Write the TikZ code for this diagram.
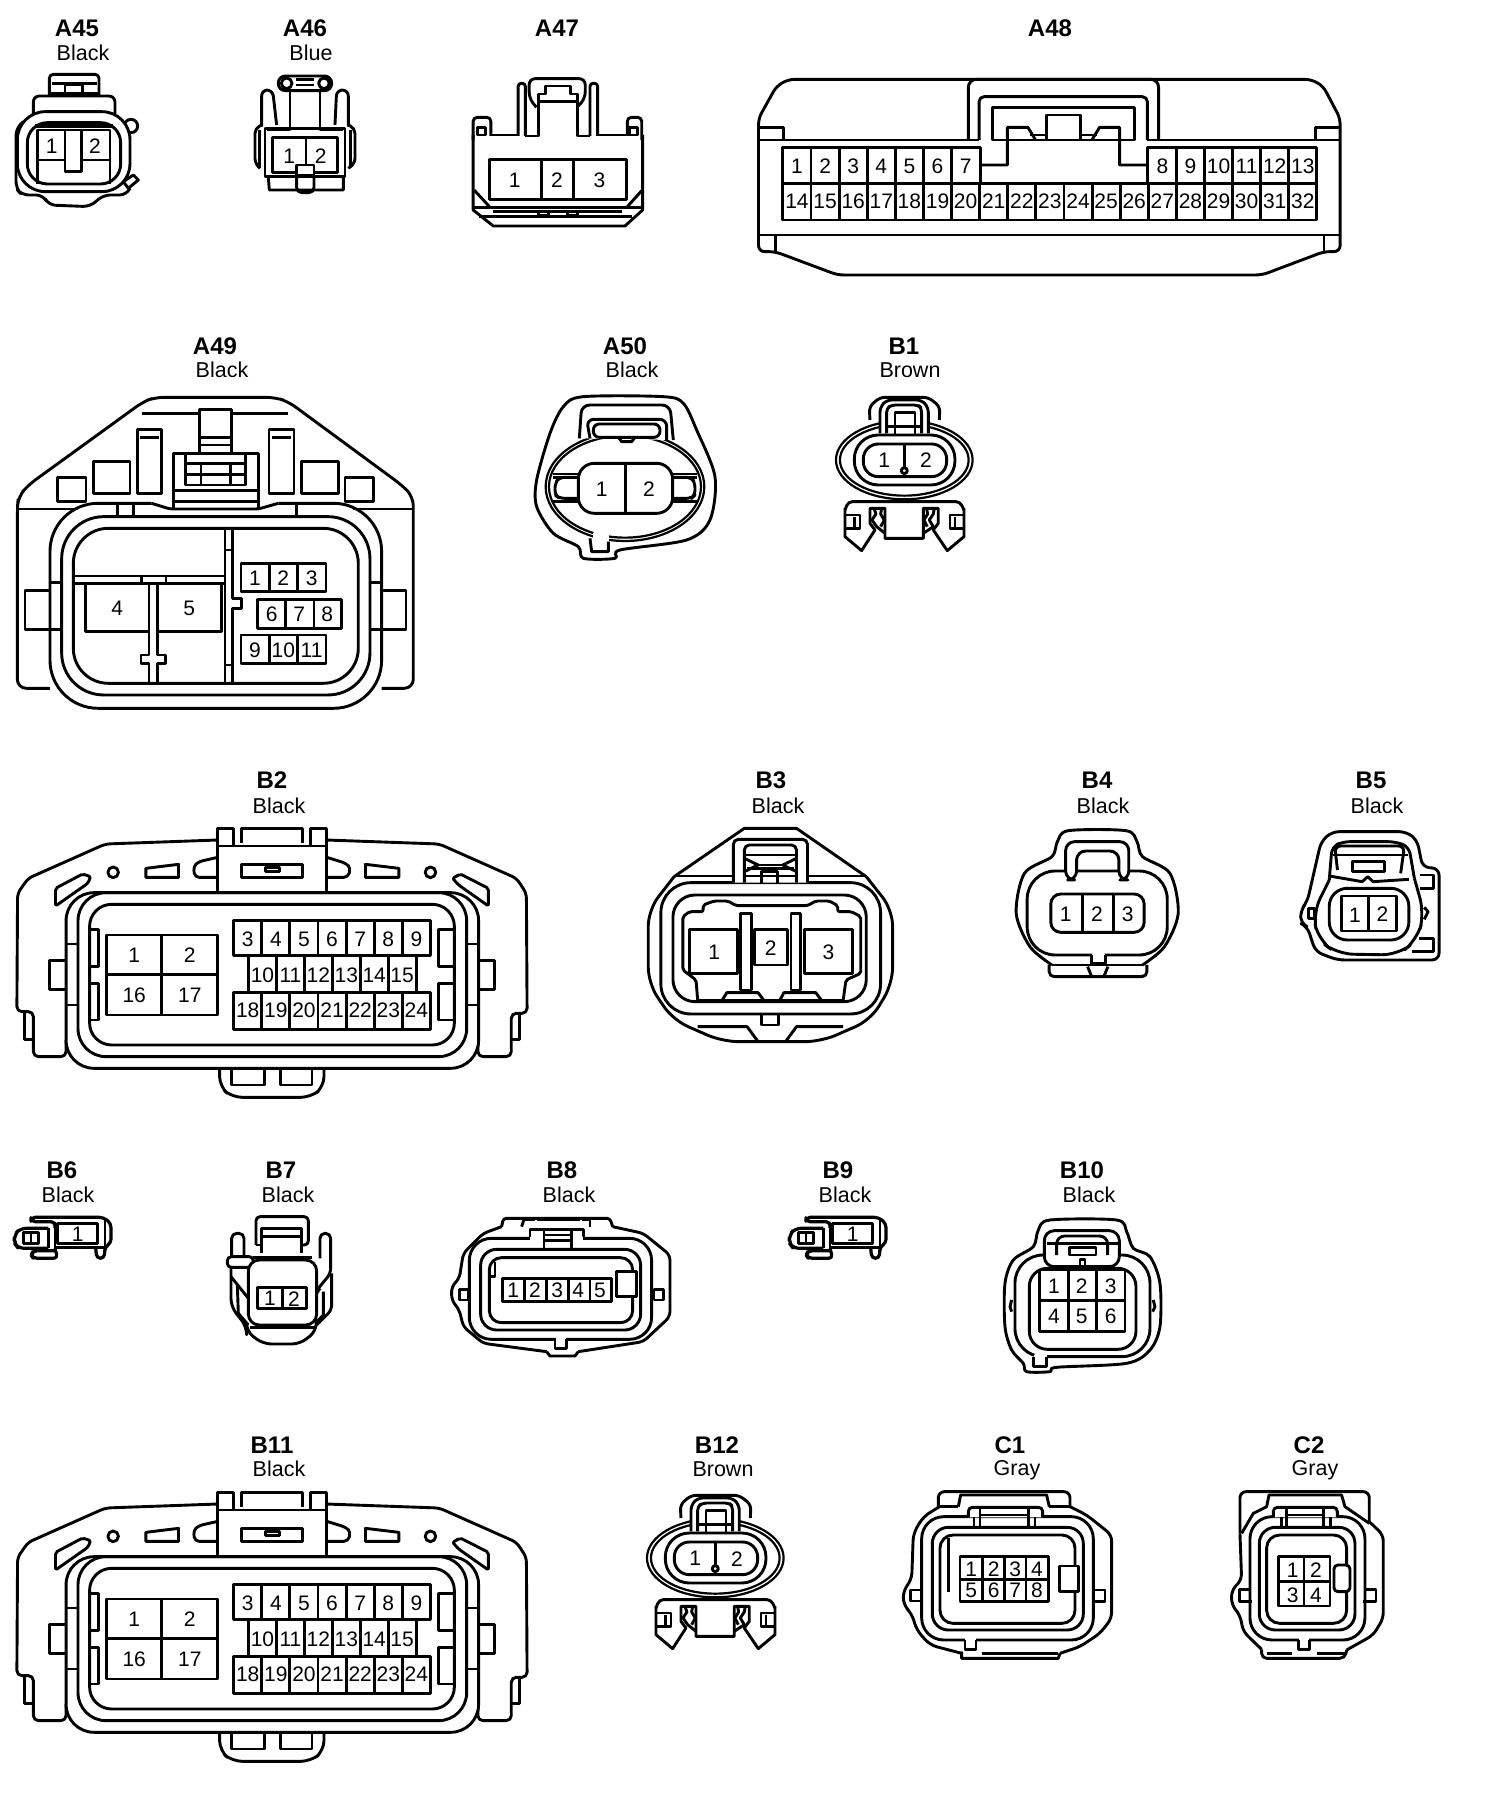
\documentclass[tikz,border=0pt]{standalone}
\usepackage{fontspec}
\setmainfont{Liberation Sans}
\tikzset{
  conntitle/.style={font=\bfseries\fontsize{24}{24}\selectfont,anchor=base,inner sep=0pt},
  conncolor/.style={font=\fontsize{21.5}{22}\selectfont,anchor=base,inner sep=0pt},
  pinnum/.style={font=\fontsize{21}{21}\selectfont,inner sep=0pt},
  wide/.style={shift={(#1)},xscale=0.4789,yscale=0.3333},
  third/.style={shift={(#1)},scale=0.3333}
}
% big connector, used for B2 and B11
\newcommand{\connBtwo}[1]{
  \draw (620,365) -- (620,175) -- (665,175) -- (665,228);
  \draw (688,220) -- (688,175) -- (860,175) -- (860,220);
  \draw (883,228) -- (883,175) -- (928,175) -- (928,365);
  \draw (620,228) -- (928,228);
  \draw (688,283) rectangle (862,322);
  \draw (755,292) rectangle (795,305);
  \draw[rounded corners=5pt] (620,210) -- (300,222) -- (80,325) -- (50,370) -- (48,725) -- (95,725) -- (95,860) -- (188,860) -- (188,810);
  \draw (70,728) -- (70,808) -- (95,808);
  \draw[rounded corners=5pt] (928,210) -- (1250,222) -- (1470,325) -- (1498,370) -- (1500,730) -- (1455,730) -- (1455,860) -- (1360,860) -- (1360,810);
  \draw (1478,732) -- (1478,808) -- (1455,808);
  \draw (322,307) ellipse (15 and 16);
  \draw (1225,307) ellipse (15 and 16);
  \draw (415,295) -- (508,283) -- (508,322) -- (415,322) -- cycle;
  \draw (1040,283) -- (1135,295) -- (1135,322) -- (1040,322) -- cycle;
  \draw[rounded corners=4pt] (620,262) -- (565,275) -- (550,290) -- (555,322) -- (620,322);
  \draw[rounded corners=4pt] (930,262) -- (985,280) -- (998,295) -- (990,322) -- (930,322);
  \draw[rounded corners=2pt] (158,355) -- (235,312) -- (258,320) -- (250,340) -- (158,408) -- cycle;
  \draw[rounded corners=2pt] (1390,355) -- (1310,312) -- (1288,325) -- (1305,345) -- (1390,408) -- cycle;
  \draw[rounded corners=28pt,fill=white] (188,368) rectangle (1362,895);
  \draw[rounded corners=28pt] (222,368) rectangle (1328,860);
  \draw[rounded corners=22pt] (255,403) rectangle (1293,825);
  \draw (188,572) -- (140,572) -- (140,658) -- (188,658);
  \draw (1362,572) -- (1408,572) -- (1408,658) -- (1362,658);
  \foreach \ty in {522,705} {
    \draw (188,\ty) -- (222,\ty);
    \draw (1328,\ty) -- (1362,\ty);
  }
  \draw (258,478) -- (280,478) -- (280,590) -- (258,590);
  \draw (258,640) -- (280,640) -- (280,750) -- (258,750);
  \draw (1293,478) -- (1247,478) -- (1247,590) -- (1293,590);
  \draw (1293,640) -- (1247,640) -- (1247,750) -- (1293,750);
  \draw[rounded corners=10pt] (625,897) -- (625,950) -- (660,982) -- (885,982) -- (922,950) -- (922,897);
  \draw (660,897) -- (660,945) -- (752,945) -- (752,897);
  \draw (797,897) -- (797,945) -- (888,945) -- (888,897);
  % pins
  \draw (302,495) rectangle (620,735);
  \draw (460,495) -- (460,735);
  \draw (302,613) -- (620,613);
  \draw (665,452) rectangle (1225,557);
  \draw (665,668) rectangle (1225,778);
  \foreach \k in {1,...,6} {
    \draw ({665+80*\k},452) -- ({665+80*\k},557);
    \draw ({665+80*\k},668) -- ({665+80*\k},778);
  }
  \foreach \k in {0,...,6}
    \draw ({708+79.5*\k},557) -- ({708+79.5*\k},668);
  \foreach \n/\px/\py in {1/382/557,2/540/557,16/382/677,17/540/677}
    \node[pinnum] (#1p\n) at (\px,\py) {\n};
  \foreach \n [evaluate=\n as \cx using {705+80*(\n-3)}] in {3,...,9}
    \node[pinnum] (#1p\n) at (\cx,508) {\n};
  \foreach \n [evaluate=\n as \cx using {747+79.5*(\n-10)}] in {10,...,15}
    \node[pinnum] (#1p\n) at (\cx,615) {\n};
  \foreach \n [evaluate=\n as \cx using {705+80*(\n-18)}] in {18,...,24}
    \node[pinnum] (#1p\n) at (\cx,722) {\n};
}
% oval connector with clip, used for B1 and B12
\newcommand{\connBone}[1]{
  \draw[rounded corners=5pt] (1050,300) -- (1048,260) -- (1080,232) -- (1225,232) -- (1260,260) -- (1258,300);
  \draw[line width=2.2pt] (1153,420) ellipse (205 and 118);
  \draw[line width=2.2pt] (1153,420) ellipse (193 and 107);
  \draw[rounded corners=5pt,fill=white] (1080,340) -- (1080,262) -- (1100,240) -- (1205,240) -- (1225,262) -- (1225,340);
  \draw[rounded corners=4pt] (1100,340) -- (1100,265) -- (1115,255) -- (1195,255) -- (1205,265) -- (1205,340);
  \draw (1125,342) -- (1125,278) -- (1185,278) -- (1185,342);
  \draw (1100,320) -- (1205,320);
  \draw[rounded corners=24pt,fill=white] (1003,345) rectangle (1305,495);
  \draw[rounded corners=15pt] (1030,372) rectangle (1280,470);
  \draw (1153,372) -- (1153,445);
  \draw[fill=white] (1153,452) circle (9);
  \node[pinnum] (#1p1) at (1093,422) {1};
  \node[pinnum] (#1p2) at (1218,422) {2};
  \draw[rounded corners=4pt] (975,570) -- (985,545) -- (1320,545) -- (1332,570);
  \draw (975,565) -- (975,650) -- (1025,692) -- (1065,630) -- (1050,610) -- (1050,565) -- (1095,565) -- (1095,655) -- (1210,655) -- (1210,565) -- (1255,565) -- (1255,610) -- (1240,630) -- (1282,692) -- (1332,650) -- (1332,565);
  \draw (975,585) -- (1020,585) -- (1020,625) -- (975,625);
  \draw (1332,585) -- (1290,585) -- (1290,625) -- (1332,625);
  \draw (1003,590) -- (1003,620);
  \draw (1305,590) -- (1305,620);
  % keyholes
  \draw (1062,565) -- (1068,582) -- (1056,600) -- (1070,620) -- (1095,640);
  \draw (1085,565) -- (1082,582) -- (1093,600) -- (1082,620);
  \draw (1243,565) -- (1240,582) -- (1228,600) -- (1240,620) -- (1210,640);
  \draw (1220,565) -- (1223,582) -- (1212,600) -- (1222,620);
}
% small one pin connector, used for B6 and B9
\newcommand{\connBnine}[1]{
  \draw[rounded corners=6pt,line width=3.2pt] (130,205) -- (45,205) -- (28,225) -- (28,250) -- (40,265) -- (130,265);
  \draw[line width=3.2pt] (55,218) rectangle (100,250);
  \draw (78,218) -- (78,250);
  \draw (130,205) -- (130,265);
  \draw[rounded corners=4pt,line width=3.2pt] (150,205) -- (150,185) -- (78,185) -- (78,172) -- (295,172) -- (318,190) -- (318,250) -- (300,260) -- (298,295) -- (275,295) -- (272,262);
  \draw[rounded corners=4pt,line width=3.2pt] (150,265) -- (158,295) -- (85,295) -- (78,285) -- (85,272) -- (150,272);
  \draw (150,185) -- (150,275);
  \draw (300,178) -- (300,260);
  \draw[line width=3.2pt] (158,190) rectangle (278,250);
  \draw (150,262) -- (300,262);
  \node[pinnum] (#1p1) at (218,222) {1};
}

\begin{document}
\begin{tikzpicture}[x=1pt,y=-1pt,line width=2.9pt,line join=round]
  \useasboundingbox (0,0) rectangle (1504,1794);

  % Titles
  \foreach \nm/\tx/\ty in {A45/77/36,A46/305/36,A47/557/36,A48/1050/36,A49/215/354,A50/625/354,B1/904/354,B2/272/788,B3/771/788,B4/1097/788,B5/1371/788,B6/62/1178,B7/281/1178,B8/562/1178,B9/838/1178,B10/1082/1178,B11/272/1453,B12/717/1453,C1/1010/1453,C2/1309/1453}
    \node[conntitle] (t\nm) at (\tx,\ty) {\nm};
  \foreach \nm/\lb/\tx/\ty in {A45/Black/83/60,A46/Blue/311/60,A49/Black/222/377,A50/Black/632/377,B1/Brown/910/377,B2/Black/279/813,B3/Black/778/813,B4/Black/1103/813,B5/Black/1377/813,B6/Black/68/1202,B7/Black/288/1202,B8/Black/569/1202,B9/Black/845/1202,B10/Black/1089/1202,B11/Black/279/1476,B12/Brown/723/1476,C1/Gray/1017/1475,C2/Gray/1315/1475}
    \node[conncolor] (c\nm) at (\tx,\ty) {\lb};

  % A45
  \begin{scope}[third={0,60}]
    \draw[rounded corners=4pt] (148,108) -- (148,43) -- (297,43) -- (297,108);
    \draw (148,100) -- (297,100);
    \draw (155,70) -- (290,70);
    \draw (195,97) -- (195,75) -- (248,75) -- (248,97);
    \draw[rounded corners=6pt] (100,165) -- (100,108) -- (345,108) -- (345,165);
    \draw[rounded corners=7pt] (70,185) -- (48,205) -- (48,385) -- (65,405) -- (130,405) -- (145,435) -- (270,440) -- (310,405) -- (380,405) -- (390,385);
    \draw (393,198) circle (20);
    \draw[fill=white] (370,365) -- (400,345) -- (415,360) -- (385,385) -- cycle;
    \draw[rounded corners=28pt,fill=white] (52,155) rectangle (390,395);
    \draw[rounded corners=20pt] (82,188) rectangle (362,372);
    \draw[line width=4pt] (105,197) -- (340,197);
    \draw (113,372) -- (113,210) -- (330,210) -- (330,372);
    \draw (113,300) -- (195,300);
    \draw (245,300) -- (330,300);
    \draw (195,210) -- (195,335) -- (245,335) -- (245,210);
    \foreach \n/\px in {1/155,2/285}
      \node[pinnum] (a45p\n) at (\px,260) {\n};
  \end{scope}

  % A46
  \begin{scope}[third={0,60}]
    \draw[rounded corners=7pt] (835,48) rectangle (995,92);
    \draw (860,70) circle (16);
    \draw (972,70) circle (16);
    \draw (888,58) -- (942,58);
    \draw (888,75) -- (942,75);
    \draw (800,210) -- (870,210) -- (870,92);
    \draw (1030,210) -- (960,210) -- (960,92);
    \draw[rounded corners=6pt] (785,200) -- (785,90) -- (818,90) -- (830,195);
    \draw[rounded corners=6pt] (1005,195) -- (1010,90) -- (1045,90) -- (1045,200);
    \draw[rounded corners=5pt] (785,195) -- (765,205) -- (765,310) -- (780,325);
    \draw[rounded corners=5pt] (1045,195) -- (1065,205) -- (1065,310) -- (1045,325);
    \draw (778,210) -- (778,320);
    \draw (1052,210) -- (1052,320);
    \draw (795,205) rectangle (1035,350);
    \draw[line width=3.2pt] (818,232) rectangle (1012,337);
    \draw (918,232) -- (918,315);
    \draw[fill=white] (890,315) rectangle (942,345);
    \draw (805,350) -- (808,390) -- (1030,390) -- (1030,350);
    \draw[rounded corners=5pt] (890,350) -- (890,398) -- (942,398) -- (942,350);
    \node[pinnum] (a46p1) at (868,288) {1};
    \node[pinnum] (a46p2) at (962,288) {2};
  \end{scope}

  % A47
  \begin{scope}[wide={0,0}]
    \draw[rounded corners=6pt] (1120,322) -- (1105,295) -- (1105,236) -- (1222,236) -- (1222,295) -- (1205,322);
    \draw (1125,305) -- (1125,282) -- (1140,282) -- (1140,258) -- (1192,258) -- (1192,282) -- (1205,282) -- (1205,305) -- cycle;
    \draw (1125,305) -- (1125,408) -- (1097,408);
    \draw (1205,305) -- (1205,408) -- (1232,408);
    \draw[rounded corners=3pt] (1082,408) -- (1082,250) -- (1097,250) -- (1097,408);
    \draw[rounded corners=3pt] (1232,408) -- (1232,250) -- (1248,250) -- (1248,408);
    \draw (1082,405) -- (1025,405);
    \draw (1248,405) -- (1310,405);
    \draw[rounded corners=4pt] (1025,408) -- (1025,352) -- (988,352) -- (988,420);
    \draw[rounded corners=4pt] (1310,408) -- (1310,352) -- (1340,352) -- (1340,420);
    \draw (997,382) rectangle (1013,405);
    \draw (1315,382) rectangle (1332,405);
    \draw (988,405) -- (988,630) -- (1030,678) -- (1305,678) -- (1342,630) -- (1342,405);
    \draw (1022,478) rectangle (1308,598);
    \draw (1130,478) -- (1130,598);
    \draw (1198,478) -- (1198,598);
    \draw (990,570) -- (1022,620);
    \draw (1340,572) -- (1310,620);
    \draw[line width=3.2pt] (988,622) -- (1342,622);
    \draw (1030,634) -- (1298,634);
    \draw (1000,650) -- (1320,650);
    \draw (1125,634) rectangle (1145,645);
    \draw (1185,634) rectangle (1205,645);
    \foreach \n/\px in {1/1075,2/1163,3/1252}
      \node[pinnum] (a47p\n) at (\px,540) {\n};
  \end{scope}

  % A48
  \begin{scope}[shift={(740,0)},xscale=0.4879,yscale=0.3333]
    \draw[rounded corners=6pt] (38,420) -- (38,355) -- (75,258) -- (100,238) -- (1170,238) -- (1195,258) -- (1230,355) -- (1230,755) -- (1197,755) -- (1070,825) -- (200,825) -- (72,755) -- (38,755) -- cycle;
    \draw (38,382) -- (90,382) -- (90,420);
    \draw (1230,382) -- (1180,382) -- (1180,420);
    \draw (38,420) -- (490,420);
    \draw (835,420) -- (1230,420);
    \draw[rounded corners=8pt] (468,420) -- (468,238) -- (858,238) -- (858,420);
    \draw[rounded corners=5pt] (490,420) -- (490,290) -- (835,290) -- (835,420);
    \draw (518,322) rectangle (808,420);
    \draw (628,420) -- (628,345) -- (697,345) -- (697,420);
    \draw (495,495) -- (548,495) -- (548,382) -- (590,382) -- (605,418);
    \draw (595,405) -- (628,405);
    \draw (832,495) -- (778,495) -- (778,382) -- (737,382) -- (722,418);
    \draw (732,405) -- (697,405);
    \draw (88,443) rectangle (493,550);
    \draw (835,443) rectangle (1182,550);
    \draw (88,550) rectangle (1182,660);
    \foreach \k in {1,...,18}
      \draw ({88+57.6*\k},550) -- ({88+57.6*\k},660);
    \foreach \k in {1,...,6,14,15,...,18}
      \draw ({88+57.6*\k},443) -- ({88+57.6*\k},550);
    \draw (38,705) -- (1230,705);
    \draw (72,705) -- (72,755);
    \draw (1197,705) -- (1197,755);
    \foreach \n [evaluate=\n as \cx using {88+57.6*(\n-0.5)}] in {1,...,7}
      \node[pinnum] (a48p\n) at (\cx,500) {\n};
    \foreach \n [evaluate=\n as \cx using {88+57.6*(\n+5.5)}] in {8,...,13}
      \node[pinnum] (a48p\n) at (\cx,500) {\n};
    \foreach \n [evaluate=\n as \cx using {88+57.6*(\n-13.5)}] in {14,...,32}
      \node[pinnum] (a48p\n) at (\cx,605) {\n};
  \end{scope}

  % A49
  \begin{scope}[third={0,320}]
    \draw[rounded corners=9pt] (150,1105) -- (52,1105) -- (52,565) -- (55,530) -- (85,495) -- (430,245) -- (465,232) -- (825,232) -- (865,245) -- (1205,495) -- (1240,530) -- (1240,1105) -- (1145,1105);
    \draw (52,567) -- (235,567);
    \draw (1060,567) -- (1240,567);
    \draw[rounded corners=48pt] (455,550) -- (150,550) -- (150,1165) -- (1145,1165) -- (1145,550) -- (835,550);
    \draw[rounded corners=3pt] (455,550) -- (510,567) -- (775,567) -- (835,550);
    \draw[rounded corners=42pt] (185,590) rectangle (1110,1125);
    \draw[rounded corners=35pt] (220,625) rectangle (1075,1090);
    \draw (352,550) -- (352,590);
    \draw (400,550) -- (400,590);
    \draw (890,550) -- (890,590);
    \draw (150,788) -- (185,788);
    \draw (1110,788) -- (1145,788);
    \draw (150,928) -- (185,928);
    \draw (1110,928) -- (1145,928);
    \draw (150,812) -- (75,812) -- (75,928) -- (150,928);
    \draw (1145,812) -- (1218,812) -- (1218,928) -- (1145,928);
    \draw (172,472) rectangle (258,545);
    \draw (280,425) rectangle (390,520);
    \draw (412,328) rectangle (485,520);
    \draw (420,352) -- (478,352);
    \draw (807,328) rectangle (882,520);
    \draw (815,352) -- (873,352);
    \draw (905,425) rectangle (1015,520);
    \draw (1035,472) rectangle (1120,545);
    \draw (427,280) -- (598,280);
    \draw (697,280) -- (865,280);
    \draw (598,400) -- (598,268) -- (695,268) -- (695,400);
    \draw (598,352) -- (695,352);
    \draw (598,375) -- (695,375);
    \draw (520,567) -- (520,400) -- (775,400) -- (775,567);
    \draw (557,405) -- (557,495) -- (737,495) -- (737,405);
    \draw (557,430) -- (737,430);
    \draw (557,463) -- (737,463);
    \draw (603,430) -- (603,495);
    \draw (692,430) -- (692,495);
    \draw (520,512) -- (775,512);
    \draw (520,545) -- (775,545);
    % inside
    \draw (222,768) -- (672,768);
    \draw (222,790) -- (672,790);
    \draw (425,768) -- (425,790);
    \draw (498,768) -- (498,790);
    \draw (675,628) -- (675,1088);
    \draw (697,628) -- (697,835) -- (725,835) -- (725,865) -- (697,865) -- (697,1088);
    \draw (675,690) -- (697,690);
    \draw (675,1035) -- (697,1035);
    \draw (257,790) -- (257,935) -- (447,935);
    \draw (473,935) -- (665,935) -- (665,790);
    \draw (447,790) -- (447,1005) -- (423,1005) -- (423,1030) -- (447,1030) -- (447,1088);
    \draw (473,790) -- (473,1005) -- (497,1005) -- (497,1030) -- (473,1030) -- (473,1088);
    \foreach \cy in {730,945} {
      \draw (723,\cy) rectangle (978,\cy+85);
      \draw (808,\cy) -- (808,\cy+85);
      \draw (892,\cy) -- (892,\cy+85);
    }
    \draw (772,838) rectangle (1025,925);
    \draw (857,838) -- (857,925);
    \draw (942,838) -- (942,925);
    \foreach \n/\px/\py in {1/765/775,2/850/775,3/935/775,6/815/882,7/898/882,8/982/882,9/765/990,10/850/990,11/935/990,4/352/865,5/568/865}
      \node[pinnum] (a49p\n) at (\px,\py) {\n};
  \end{scope}

  % A50
  \begin{scope}[third={520,320}]
    \draw plot[smooth cycle] coordinates {(190,230) (430,230) (490,250) (530,330) (585,470) (570,600) (500,660) (300,690) (285,715) (190,715) (175,680) (100,640) (50,560) (50,480) (90,340) (130,260)};
    \draw[line width=2.2pt] (315,500) ellipse (238 and 163);
    \draw[line width=2.2pt] (315,500) ellipse (228 and 153);
    \draw[fill=white,draw=white] (222,640) rectangle (262,672);
    \draw (210,655) -- (215,695) -- (265,695) -- (265,665);
    \draw[rounded corners=8pt,fill=white] (178,355) -- (185,255) -- (450,255) -- (460,360);
    \draw[rounded corners=7pt] (210,355) -- (200,298) -- (440,298) -- (440,360);
    \draw[rounded corners=6pt,fill=white] (220,352) -- (220,312) -- (420,312) -- (420,352) -- cycle;
    \draw (295,352) -- (305,365) -- (335,365) -- (345,352);
    \draw (100,462) -- (175,462);
    \draw (100,472) -- (175,472);
    \draw (100,545) -- (175,545);
    \draw (458,462) -- (530,462);
    \draw (458,472) -- (530,472);
    \draw (458,545) -- (530,545);
    \draw[rounded corners=5pt] (175,472) -- (118,472) -- (105,490) -- (105,525) -- (118,535) -- (175,535);
    \draw[rounded corners=5pt] (458,472) -- (515,472) -- (525,490) -- (525,525) -- (515,535) -- (458,535);
    \draw[rounded corners=16pt,fill=white] (175,430) rectangle (458,580);
    \draw (317,430) -- (317,580);
    \node[pinnum] (a50p1) at (245,508) {1};
    \node[pinnum] (a50p2) at (387,508) {2};
  \end{scope}

  % B1
  \begin{scope}[third={520,320}]
    \connBone{bone}
  \end{scope}

  % B2
  \begin{scope}[shift={(0,770)},xscale=0.3514,yscale=0.3333]
    \connBtwo{btwo}
  \end{scope}

  % B3
  \begin{scope}[shift={(640,770)},xscale=0.5492,yscale=0.3333]
    \draw (62,320) -- (190,175) -- (285,175) -- (412,320);
    \draw (62,318) -- (170,318);
    \draw (305,318) -- (412,318);
    \draw[rounded corners=16pt] (62,320) -- (15,420) -- (15,640) -- (60,750) -- (150,815) -- (330,815) -- (420,750) -- (460,640) -- (460,420) -- (412,320);
    \draw[rounded corners=30pt] (38,338) rectangle (438,732);
    \draw[rounded corners=22pt] (60,375) rectangle (412,695);
    \draw[rounded corners=2pt] (105,690) -- (102,630) -- (78,600) -- (78,440) -- (90,425) -- (115,425) -- (115,405) -- (135,393) -- (160,393) -- (175,407) -- (305,407) -- (320,393) -- (345,393) -- (360,407) -- (360,425) -- (385,425) -- (402,440) -- (402,610) -- (375,630) -- (370,690);
    \draw (105,690) -- (370,690);
    \draw (90,478) rectangle (177,610);
    \draw (208,478) rectangle (268,585);
    \draw (300,478) rectangle (387,610);
    \draw (183,430) rectangle (203,660);
    \draw (275,430) rectangle (293,660);
    \draw (150,690) -- (158,668) -- (215,668) -- (225,690);
    \draw (255,690) -- (262,668) -- (320,668) -- (330,690);
    \draw[rounded corners=5pt,fill=white] (170,338) -- (170,208) -- (305,208) -- (305,338);
    \draw[rounded corners=5pt] (190,338) -- (190,225) -- (285,225) -- (285,338);
    \draw (190,255) -- (285,255);
    \draw (190,265) -- (215,285) -- (190,305);
    \draw (285,265) -- (260,285) -- (285,305);
    \draw (215,285) -- (260,285);
    \draw (195,295) -- (280,295);
    \draw (222,338) -- (222,305) -- (250,305) -- (250,338);
    \draw (190,318) -- (285,318);
    \draw (222,735) -- (222,765) -- (252,765) -- (252,735);
    \draw (105,770) -- (195,770) -- (215,815);
    \draw (370,770) -- (285,770) -- (265,815);
    \node[pinnum] (bthreep1) at (135,548) {1};
    \node[pinnum] (bthreep2) at (238,535) {2};
    \node[pinnum] (bthreep3) at (343,548) {3};
  \end{scope}

  % B4
  \begin{scope}[shift={(640,770)},xscale=0.5492,yscale=0.3333]
    \draw plot[smooth] coordinates {(750,585) (710,530) (685,430) (700,310) (750,260) (760,215) (780,182) (885,182) (905,215) (915,260) (965,310) (980,430) (955,530) (915,585)};
    \draw (750,585) -- (915,585);
    \draw[rounded corners=28pt] (705,303) rectangle (960,555);
    \draw[draw=white,fill=white] (826,552) rectangle (844,558);
    \draw (822,555) -- (822,580) -- (848,580) -- (848,555);
    \draw[rounded corners=5pt] (745,585) -- (745,620) -- (923,620) -- (923,585);
    \draw (815,590) -- (822,618);
    \draw (852,590) -- (845,618);
    \draw[rounded corners=9pt,fill=white] (775,330) -- (775,215) -- (890,215) -- (890,330) -- (872,330) -- (872,243) -- (795,243) -- (795,330) -- cycle;
    \draw[rounded corners=10pt] (748,372) rectangle (918,487);
    \draw (805,372) -- (805,487);
    \draw (862,372) -- (862,487);
    \foreach \n/\px in {1/775,2/832,3/888}
      \node[pinnum] (bfourp\n) at (\px,432) {\n};
  \end{scope}

  % B5
  \begin{scope}[shift={(640,770)},xscale=0.5492,yscale=0.3333]
    \draw[rounded corners=7pt] (1260,185) -- (1395,185) -- (1415,210) -- (1425,292) -- (1455,295) -- (1455,570) -- (1270,570) -- (1230,545) -- (1215,470) -- (1203,460) -- (1203,420) -- (1215,395) -- (1240,215) -- cycle;
    \draw (1420,315) -- (1445,315) -- (1445,355) -- (1420,355);
    \draw (1418,505) -- (1445,505) -- (1445,545) -- (1405,545);
    \draw (1218,415) rectangle (1228,445);
    \draw (1428,412) -- (1435,425) -- (1428,448);
    \draw[rounded corners=7pt] (1255,330) -- (1260,230) -- (1280,215) -- (1375,215) -- (1400,230) -- (1410,325);
    \draw[rounded corners=6pt] (1270,300) -- (1265,228) -- (1392,228) -- (1385,310);
    \draw (1262,255) -- (1398,255);
    \draw (1298,275) rectangle (1355,305);
    \draw (1255,318) -- (1315,335) -- (1325,320) -- (1335,335) -- (1400,328);
    \draw[rounded corners=16pt] (1255,330) -- (1225,430) -- (1235,510) -- (1270,552) -- (1380,555) -- (1415,510) -- (1428,430) -- (1410,325);
    \draw[rounded corners=18pt] (1255,355) rectangle (1400,510);
    \draw (1278,378) rectangle (1378,483);
    \draw (1327,378) -- (1327,483);
    \node[pinnum] (bfivep1) at (1302,435) {1};
    \node[pinnum] (bfivep2) at (1352,433) {2};
  \end{scope}

  % B6
  \begin{scope}[third={5,1160}]
    \connBnine{bsix}
  \end{scope}

  % B7
  \begin{scope}[third={220,1210}]
    \draw[rounded corners=4pt] (108,105) -- (108,20) -- (265,20) -- (265,105) -- (245,105);
    \draw (108,105) -- (125,105);
    \draw (125,130) -- (125,55) -- (245,55) -- (245,130);
    \draw (125,80) -- (245,80);
    \draw[rounded corners=5pt] (35,140) -- (35,70) -- (72,70) -- (72,140);
    \draw[rounded corners=5pt] (300,145) -- (300,70) -- (332,70) -- (332,190) -- (295,235);
    \draw[rounded corners=8pt] (33,172) -- (33,290) -- (80,350) -- (80,365) -- (130,402) -- (240,402) -- (290,362) -- (288,330);
    \draw[rounded corners=5pt] (335,190) -- (335,300) -- (290,345);
    \draw (33,200) -- (85,265);
    \draw (52,225) -- (55,310) -- (85,345);
    \draw (310,245) -- (310,315) -- (290,335);
    \draw (300,235) -- (290,250);
    \draw[rounded corners=4pt,fill=white] (22,140) rectangle (100,172);
    \draw[rounded corners=11pt,fill=white] (85,150) rectangle (290,345);
    \draw (100,143) -- (275,143);
    \draw (90,352) -- (285,352);
    \draw[line width=3.2pt] (112,232) rectangle (260,295);
    \draw (188,232) -- (188,295);
    \node[pinnum] (bsevenp1) at (150,266) {1};
    \node[pinnum] (bsevenp2) at (222,266) {2};
  \end{scope}

  % B8
  \begin{scope}[third={220,1210}]
    \draw[rounded corners=5pt] (845,50) -- (790,70) -- (730,130) -- (718,205) -- (695,230) -- (695,270) -- (718,300) -- (730,350) -- (790,400) -- (980,425);
    \draw (980,425) -- (990,438) -- (1065,438) -- (1075,425);
    \draw[rounded corners=5pt] (1075,425) -- (1270,395) -- (1350,320) -- (1350,135) -- (1270,70) -- (1178,50);
    \draw[rounded corners=3pt] (845,50) -- (850,25) -- (1170,25) -- (1178,50);
    \draw (905,50) -- (912,28) -- (945,28);
    \draw (1110,50) -- (1110,28) -- (1085,28);
    \draw (950,30) -- (1080,30);
    \draw[rounded corners=22pt] (748,85) rectangle (1295,388);
    \draw[draw=white,fill=white] (1012,384) rectangle (1033,392);
    \draw (1005,388) -- (1005,415) -- (1040,415) -- (1040,388);
    \draw[fill=white] (930,88) -- (930,58) -- (1090,58) -- (1090,88);
    \draw[draw=white,fill=white] (934,82) rectangle (1086,92);
    \draw (972,58) -- (972,115);
    \draw (1055,58) -- (1055,115);
    \draw (972,75) -- (1055,75);
    \draw (972,92) -- (1055,92);
    \draw[rounded corners=16pt] (782,118) rectangle (1262,360);
    \draw[rounded corners=12pt] (808,143) rectangle (1238,338);
    \draw (808,200) -- (825,200) -- (825,155);
    \draw (718,238) rectangle (745,270);
    \draw (1302,238) rectangle (1330,270);
    \draw[line width=3.2pt] (848,205) rectangle (1175,275);
    \foreach \vx in {913,979,1045,1110}
      \draw (\vx,205) -- (\vx,275);
    \draw[fill=white] (1190,185) rectangle (1250,260);
    \foreach \n/\px in {1/880,2/945,3/1012,4/1075,5/1140}
      \node[pinnum] (beightp\n) at (\px,240) {\n};
  \end{scope}

  % B9
  \begin{scope}[third={780,1160}]
    \connBnine{bnine}
  \end{scope}

  % B10
  \begin{scope}[third={780,1160}]
    \draw plot[smooth cycle] coordinates {(810,180) (1010,180) (1040,215) (1060,265) (1110,290) (1140,370) (1140,500) (1110,570) (1040,610) (830,622) (810,635) (740,635) (730,610) (695,570) (675,500) (675,370) (700,300) (760,260) (775,210)};
    \draw[rounded corners=28pt] (705,285) rectangle (1110,590);
    \draw[draw=white,fill=white] (766,585) rectangle (796,594);
    \draw (760,590) -- (760,620) -- (800,620) -- (800,590);
    \draw[rounded corners=10pt,fill=white] (793,320) -- (793,212) -- (1018,212) -- (1018,320) -- cycle;
    \draw[rounded corners=8pt] (830,285) -- (830,228) -- (983,228) -- (983,285);
    \draw (800,250) -- (1015,250);
    \draw (868,262) rectangle (948,285);
    \draw[rounded corners=18pt] (748,325) rectangle (1068,568);
    \draw (900,325) -- (900,298) -- (915,298) -- (915,325);
    \draw (778,330) rectangle (1035,515);
    \draw (865,330) -- (865,515);
    \draw (950,330) -- (950,515);
    \draw (778,422) -- (1035,422);
    \draw (695,420) -- (690,440) -- (695,455);
    \draw (1120,420) -- (1125,440) -- (1118,455);
    \foreach \n/\px/\py in {1/822/378,2/905/378,3/992/378,4/822/470,5/905/470,6/992/470}
      \node[pinnum] (btenp\n) at (\px,\py) {\n};
  \end{scope}

  % B11
  \begin{scope}[shift={(0,1434)},xscale=0.3514,yscale=0.3333]
    \connBtwo{beleven}
  \end{scope}

  % B12
  \begin{scope}[third={331,1418}]
    \connBone{btwelve}
  \end{scope}

  % C1
  \begin{scope}[third={900,1490}]
    \draw[rounded corners=6pt] (115,55) -- (115,5) -- (510,5) -- (510,50);
    \draw[rounded corners=7pt] (115,52) -- (70,80) -- (40,130) -- (35,270) -- (10,300) -- (10,345) -- (35,370) -- (50,420) -- (90,465) -- (185,490);
    \draw[rounded corners=6pt] (510,50) -- (560,75) -- (635,135) -- (635,385) -- (600,430) -- (540,470) -- (480,490);
    \draw (115,50) -- (175,50);
    \draw (448,50) -- (510,50);
    \draw (175,50) -- (182,15) -- (440,15) -- (448,50);
    \draw (185,485) -- (185,505) -- (475,505) -- (480,490);
    \draw (245,490) -- (475,490);
    \draw[rounded corners=22pt] (65,80) rectangle (580,450);
    \draw[draw=white,fill=white] (200,446) rectangle (223,454);
    \draw (195,450) -- (195,478) -- (228,478) -- (228,450);
    \draw[rounded corners=4pt,fill=white] (205,82) -- (205,52) -- (428,52) -- (428,82);
    \draw (222,110) -- (222,80);
    \draw (240,110) -- (240,55);
    \draw (385,110) -- (385,55);
    \draw (405,110) -- (405,80);
    \draw (240,75) -- (385,75);
    \draw[rounded corners=16pt] (97,112) rectangle (550,420);
    \draw[rounded corners=13pt] (120,135) rectangle (525,400);
    \draw (145,145) -- (145,305);
    \draw (65,300) -- (32,300) -- (32,333) -- (70,333);
    \draw (580,300) -- (615,300) -- (615,335) -- (575,335);
    \draw[fill=white] (478,228) rectangle (535,305);
    \draw (180,200) rectangle (445,335);
    \foreach \vx in {248,313,378}
      \draw (\vx,200) -- (\vx,335);
    \draw (180,268) -- (445,268);
    \foreach \n/\px/\py in {1/214/238,2/281/238,3/346/238,4/411/238,5/214/302,6/281/302,7/346/302,8/411/302}
      \node[pinnum] (conep\n) at (\px,\py) {\n};
  \end{scope}

  % C2
  \begin{scope}[third={900,1490}]
    \draw[rounded corners=6pt] (1020,130) -- (1020,5) -- (1408,5) -- (1408,95);
    \draw[rounded corners=6pt] (1020,130) -- (1025,270) -- (995,300) -- (995,345) -- (1020,375) -- (1030,425) -- (1085,478);
    \draw[rounded corners=6pt] (1408,95) -- (1450,135) -- (1450,385) -- (1420,435) -- (1340,480);
    \draw (1025,130) -- (1060,70) -- (1100,50) -- (1107,15) -- (1325,15) -- (1335,50) -- (1408,100);
    \draw[rounded corners=5pt] (1085,478) -- (1085,505) -- (1335,505) -- (1340,480);
    \draw (1100,490) -- (1175,490);
    \draw (1250,490) -- (1335,490);
    \draw[rounded corners=22pt] (1050,80) rectangle (1395,450);
    \draw[draw=white,fill=white] (1200,446) rectangle (1223,454);
    \draw (1195,450) -- (1195,478) -- (1228,478) -- (1228,450);
    \draw[rounded corners=4pt,fill=white] (1120,82) -- (1120,52) -- (1312,52) -- (1312,82);
    \draw (1145,110) -- (1145,80);
    \draw (1160,110) -- (1160,55);
    \draw (1270,110) -- (1270,55);
    \draw (1292,110) -- (1292,80);
    \draw (1160,75) -- (1270,75);
    \draw[rounded corners=16pt] (1078,112) rectangle (1365,420);
    \draw[rounded corners=13pt] (1100,135) rectangle (1340,400);
    \draw (1050,298) -- (1018,298) -- (1018,335) -- (1055,335);
    \draw (1395,298) -- (1428,298) -- (1428,335) -- (1390,335);
    \draw[rounded corners=4pt,fill=white] (1302,225) rectangle (1350,305);
    \draw (1135,200) rectangle (1290,348);
    \draw (1212,200) -- (1212,348);
    \draw (1135,275) -- (1290,275);
    \foreach \n/\px/\py in {1/1178/240,2/1248/240,3/1178/315,4/1248/315}
      \node[pinnum] (ctwop\n) at (\px,\py) {\n};
  \end{scope}
\end{tikzpicture}
\end{document}
